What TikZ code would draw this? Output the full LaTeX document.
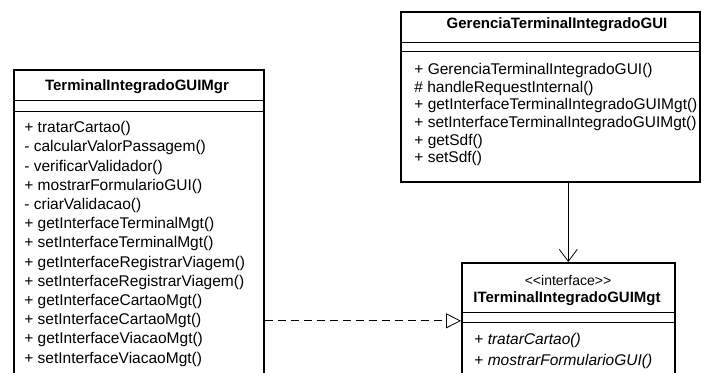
\documentclass[tikz,border=0pt]{standalone}
\usepackage{fontspec}
\setmainfont{Liberation Sans}
\usetikzlibrary{arrows.meta}

\begin{document}
\begin{tikzpicture}[x=1pt,y=-1pt,thick,
  class box/.style={draw,line width=1.6pt,fill=white,inner sep=0pt,anchor=north west},
  class name/.style={font=\fontsize{15}{18}\selectfont\bfseries,inner sep=0pt},
  stereo/.style={font=\fontsize{14}{16}\selectfont,inner sep=0pt},
  op/.style={font=\fontsize{15.5}{18}\selectfont,inner sep=0pt,anchor=base west},
  sep/.style={line width=0.9pt}]
  \useasboundingbox[fill=white] (0,0) rectangle (701,372);

  % classes
  \node[class box,minimum width=250pt,minimum height=320pt] (mgr) at (13,69) {};
  \node[class box,minimum width=299pt,minimum height=170pt] (gui) at (400,11) {};
  \node[class box,minimum width=213pt,minimum height=116pt] (iface) at (461,262) {};

  \draw[sep] (13,100) -- (263,100) (13,111) -- (263,111);
  \draw[sep] (400,42) -- (699,42) (400,51) -- (699,51);
  \draw[sep] (461,312) -- (674,312) (461,322) -- (674,322);

  \node[class name] (mgr name) at (137,87) {TerminalIntegradoGUIMgr};
  \node[class name] (gui name) at (557,25) {GerenciaTerminalIntegradoGUI};
  \node[stereo] (iface stereo) at (568,280) {<{}<interface>{}>};
  \node[class name] (iface name) at (567,299) {ITerminalIntegradoGUIMgt};

  \foreach \op [count=\i] in {+ tratarCartao(), - calcularValorPassagem(),
      - verificarValidador(), + mostrarFormularioGUI(), - criarValidacao(),
      + getInterfaceTerminalMgt(), + setInterfaceTerminalMgt(),
      + getInterfaceRegistrarViagem(), + setInterfaceRegistrarViagem(),
      + getInterfaceCartaoMgt(), + setInterfaceCartaoMgt(),
      + getInterfaceViacaoMgt(), + setInterfaceViacaoMgt()}
    \node[op] (mgr op\i) at (24,{113.5+19.2*\i}) {\op};

  \foreach \op [count=\i] in {+ GerenciaTerminalIntegradoGUI(),
      \# handleRequestInternal(), + getInterfaceTerminalIntegradoGUIMgt(),
      + setInterfaceTerminalIntegradoGUIMgt(), + getSdf(), + setSdf()}
    \node[op] (gui op\i) at (414,{57+17.6*\i}) {\op};

  \node[op] (iface op1) at (474,344) {+ \textit{tratarCartao()}};
  \node[op] (iface op2) at (474,365) {+ \textit{mostrarFormularioGUI()}};

  % relations
  \draw[line width=0.8pt,-{Straight Barb[length=12pt,width=18pt]}]
    (gui.south -| iface.north) -- (iface.north);
  \draw[line width=0.8pt,dash pattern=on 8pt off 5pt,-{Triangle[open,length=15pt,width=15pt]}]
    (mgr.east |- iface.west) -- (iface.west);
\end{tikzpicture}
\end{document}
